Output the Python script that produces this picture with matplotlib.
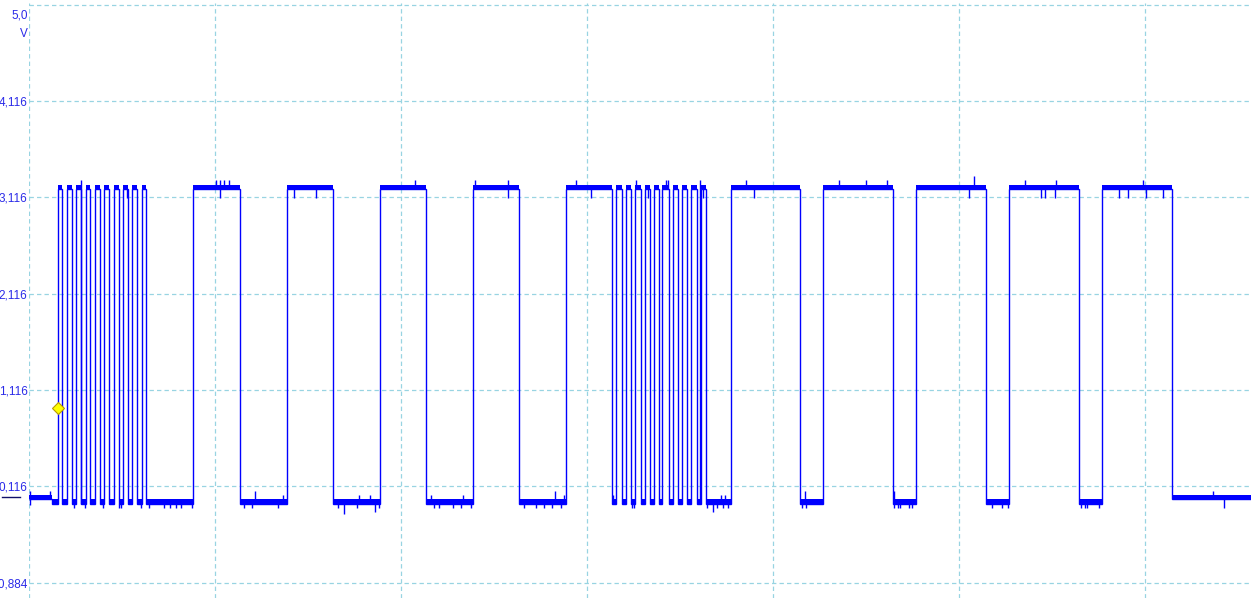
import numpy as np
import matplotlib
matplotlib.use("Agg")
import matplotlib.pyplot as plt
from matplotlib.transforms import blended_transform_factory

# time in ms (grid every 10 ms), voltage in V
edges_ms = [
    1.25,
    # first fast burst
    1.56, 1.79, 2.06, 2.33, 2.54, 2.81, 3.08, 3.30, 3.57, 3.83,
    4.05, 4.32, 4.57, 4.82, 5.05, 5.31, 5.54, 5.81, 6.08, 6.31,
    # slow square wave
    8.83, 11.36, 13.89, 16.36, 18.89, 21.34, 23.89, 26.36, 28.86,
    # second fast burst
    31.36, 31.58, 31.90, 32.08, 32.38, 32.60, 32.92, 33.10, 33.40, 33.59,
    33.89, 34.05, 34.43, 34.61, 34.91, 35.09, 35.39, 35.58, 35.93, 36.11, 36.41,
    # slow, asymmetric part
    37.73, 41.47, 42.70, 46.47, 47.70, 51.47, 52.70, 56.47, 57.70, 61.47,
]
# state of each segment: I = idle, L = low, H = high
states = ("IL"
          "HLHLHLHLHLHLHLHLHLHL"
          "HLHLHLHLH"
          "LHLHLHLHLHLHLHLHLHLHL"
          "HLHLHLHLHI")

level_v = {"H": 3.199, "L": -0.069, "I": -0.020}   # trace level
band_v = {"H": 3.246, "L": -0.014, "I": 0.026}     # top of noise band

# glitches (time ms, tip voltage)
spike_t = [0.05, 0.05, 1.15,
           2.81, 10.07, 10.28, 10.47, 10.77, 20.74, 23.99, 25.77, 29.42, 32.65,
           34.26, 34.37, 36.08, 38.56, 43.56, 45.01, 46.11, 50.82, 53.53, 55.23, 59.91,
           5.27, 10.28, 14.26, 15.45, 25.77, 30.22, 33.30, 36.25, 38.99, 50.55,
           54.42, 54.62, 55.18, 58.62, 59.10, 60.04, 60.98,
           12.17, 13.67, 17.76, 18.35, 21.63, 23.35, 28.28, 28.78, 31.41, 37.19,
           37.44, 41.74, 46.52, 63.67,
           2.44, 3.03, 3.99, 4.85, 4.95, 6.04, 6.47, 7.27, 7.60, 7.89, 8.19, 8.78,
           11.58, 12.01, 13.40, 16.63, 17.65, 18.83, 21.79, 22.06, 22.81, 23.24,
           23.78, 26.63, 27.27, 27.70, 28.13, 28.61, 32.44, 32.54, 36.47, 37.01,
           37.33, 37.60, 41.56, 41.77, 46.49, 46.70, 46.84, 47.33, 47.49, 51.77,
           52.33, 52.65, 56.58, 56.79, 56.90, 57.54, 64.26,
           16.95, 18.62, 36.76]
spike_v = [0.067, -0.078, 0.067,
           3.296, 3.296, 3.296, 3.296, 3.296, 3.296, 3.296, 3.296, 3.296, 3.296,
           3.296, 3.296, 3.296, 3.296, 3.296, 3.296, 3.296, 3.339, 3.296, 3.296, 3.296,
           3.106, 3.106, 3.106, 3.106, 3.106, 3.106, 3.106, 3.106, 3.106, 3.106,
           3.106, 3.106, 3.106, 3.106, 3.106, 3.106, 3.106,
           0.067, 0.026, 0.026, 0.026, 0.026, 0.026, 0.067, 0.026, 0.026, 0.026,
           0.026, 0.067, 0.067, 0.067,
           -0.114, -0.114, -0.114, -0.114, -0.114, -0.114, -0.114, -0.114, -0.114,
           -0.114, -0.114, -0.114,
           -0.114, -0.114, -0.114, -0.114, -0.114, -0.114, -0.114, -0.114, -0.114,
           -0.114, -0.114, -0.114, -0.114, -0.114, -0.114, -0.114, -0.114, -0.114,
           -0.114, -0.114, -0.114, -0.114, -0.114, -0.114, -0.114, -0.114, -0.114,
           -0.114, -0.114, -0.114, -0.114, -0.114, -0.114, -0.114, -0.114, -0.114,
           -0.114,
           -0.175, -0.156, -0.156]

grid_v = [5.116, 4.116, 3.116, 2.116, 1.116, 0.116, -0.884]
tick_v = [4.116, 3.116, 2.116, 1.116, 0.116, -0.884]
tick_labels = ["4,116", "3,116", "2,116", "1,116", "0,116", "-0,884"]
grid_t = [0, 10, 20, 30, 40, 50, 60]

trigger_t, trigger_v = 1.56, 0.929
t_max = 65.70

BLUE = "#0000ff"
GRID = "#98d4e2"
LABEL = "#2a2ae8"

fig = plt.figure(figsize=(12.51, 5.98), dpi=100)
ax = fig.add_axes([29 / 1251, 0, 1 - 29 / 1251, 595 / 598])
ax.set_xlim(0, t_max)
ax.set_ylim(-1.0436, 5.133)
for s in ax.spines.values():
    s.set_visible(False)

for v in grid_v:
    ax.axhline(v, color=GRID, lw=0.9, ls=(0, (3.5, 2.5)), zorder=0)
for t in grid_t:
    ax.axvline(t, color=GRID, lw=0.9, ls=(0, (3.5, 2.5)), zorder=0)

x = np.array([0.0] + edges_ms + [t_max])
lev = np.array([level_v[s] for s in states])
top = np.array([band_v[s] for s in states])
is_high = np.array([s == "H" for s in states])

# noise band sitting on top of the trace
ax.fill_between(x, np.append(top, top[-1]), np.append(lev, lev[-1]),
                step="post", color=BLUE, lw=0, zorder=2)
# sparse comb under the high level
hmask = np.append(is_high, is_high[-1])
ax.fill_between(x, np.append(lev, lev[-1]), np.append(lev, lev[-1]) - 0.04,
                where=hmask, step="post", color=BLUE, alpha=0.3, lw=0, zorder=2)
ax.stairs(lev, x, baseline=None, color=BLUE, lw=1.0, zorder=3)

idx = np.clip(np.searchsorted(x, spike_t, side="right") - 1, 0, len(states) - 1)
ax.vlines(spike_t, lev[idx], spike_v, color=BLUE, lw=1.0, zorder=3)

ax.plot([trigger_t], [trigger_v], marker="D", ms=6.5, mfc="#ffff00",
        mec="#b89a00", mew=0.8, zorder=5)

ax.set_xticks([])
ax.set_yticks(tick_v)
ax.set_yticklabels(tick_labels)
ax.tick_params(axis="y", length=0, pad=1, labelcolor=LABEL, labelsize=8.5)
for lbl in ax.get_yticklabels():
    lbl.set_fontfamily("Liberation Sans")

trans = blended_transform_factory(fig.transFigure, ax.transData)
ax.text(28 / 1251, 5.0, "5,0", transform=trans, ha="right", va="center",
        color=LABEL, fontsize=8.5, family="Liberation Sans")
ax.text(28 / 1251, 4.811, "V", transform=trans, ha="right", va="center",
        color=LABEL, fontsize=8.5, family="Liberation Sans")
# channel ground marker
ax.plot([2 / 1251, 20 / 1251], [0.005, 0.005], transform=trans, color="#10106a",
        lw=1.0, clip_on=False)

fig.savefig("out.png", dpi=100)
